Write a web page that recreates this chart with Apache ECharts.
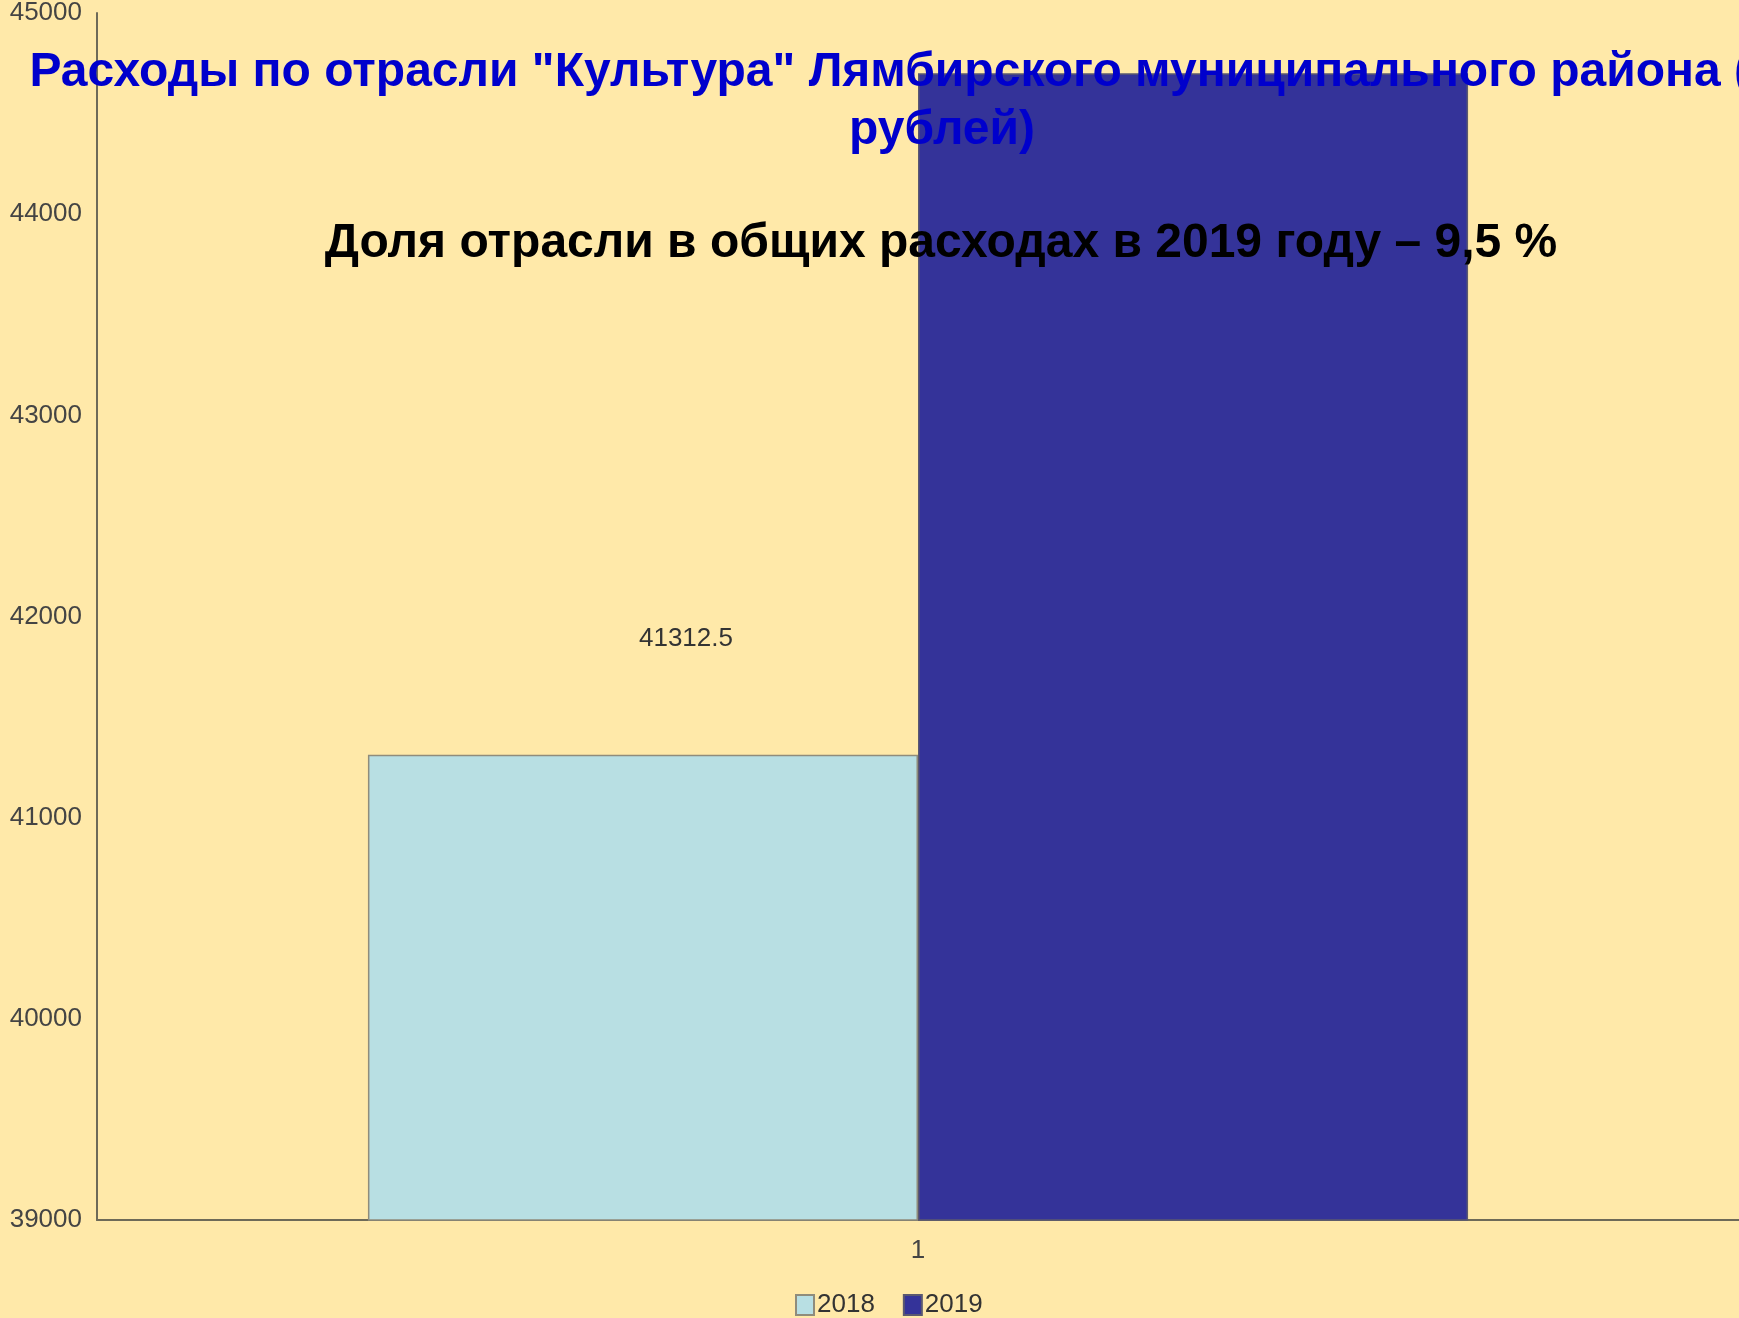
<!DOCTYPE html>
<html>
<head>
<meta charset="utf-8">
<title>Культура</title>
<script src="https://cdn.jsdelivr.net/npm/echarts@6/dist/echarts.min.js"></script>
<style>
  html, body { margin: 0; padding: 0; background: #FFE9A9; }
  #chart { width: 1739px; height: 1318px; }
</style>
</head>
<body>
<div id="chart"></div>
<script>
// данные
var categories = ['1'];
var years = ['2018', '2019'];
var values2018 = [41312.5];
var values2019 = [44700];
var yTicks = { min: 39000, max: 45000, step: 1000 };

var font = '"Liberation Sans", Arial, sans-serif';

var myChart = echarts.init(document.getElementById('chart'));

var option = {
  backgroundColor: '#FFE9A9',
  textStyle: { fontFamily: font },
  title: [{
    text: 'Расходы по отрасли "Культура" Лямбирского муниципального района (тыс.\nрублей)',
    left: 937,
    top: 39,
    textAlign: 'center',
    textStyle: {
      color: '#0000CC',
      fontSize: 48,
      fontWeight: 'bold',
      lineHeight: 58,
      fontFamily: font
    }
  }, {
    text: 'Доля отрасли в общих расходах в 2019 году – 9,5 %',
    left: 936,
    top: 210,
    textAlign: 'center',
    textStyle: {
      color: '#000',
      fontSize: 48,
      fontWeight: 'bold',
      lineHeight: 58,
      fontFamily: font
    }
  }],
  legend: {
    data: years,
    left: 790,
    top: 1287,
    itemWidth: 18,
    itemHeight: 20,
    itemGap: 28,
    icon: 'rect',
    textStyle: { fontSize: 26, color: '#333', fontFamily: font, padding: [0, 0, 0, -2] }
  },
  grid: {
    left: 97,
    right: 0,
    top: 11,
    bottom: 98,
    containLabel: false
  },
  xAxis: {
    type: 'category',
    data: categories,
    axisTick: { show: false },
    axisLine: { lineStyle: { color: '#6e6a58', width: 2 } },
    axisLabel: { margin: 18, fontSize: 26, color: '#444', fontFamily: font }
  },
  yAxis: {
    type: 'value',
    min: yTicks.min,
    max: yTicks.max,
    interval: yTicks.step,
    splitLine: { show: false },
    axisTick: { show: false },
    axisLine: { show: true, lineStyle: { color: '#6e6a58', width: 2 } },
    axisLabel: {
      margin: 15,
      fontSize: 26,
      color: '#444',
      fontFamily: font,
      formatter: function (v) { return String(v); }
    }
  },
  series: [{
    name: '2018',
    type: 'bar',
    data: values2018,
    barGap: 0,
    barCategoryGap: '33%',
    itemStyle: { color: '#B8DFE3', borderColor: '#8f8c7c', borderWidth: 1.5 },
    label: {
      show: true,
      position: 'top',
      distance: 106,
      offset: [43, 3],
      fontSize: 26,
      color: '#333',
      fontFamily: font
    }
  }, {
    name: '2019',
    type: 'bar',
    data: values2019,
    itemStyle: { color: '#343399', borderColor: '#5a5870', borderWidth: 1.5 },
    label: {
      show: true,
      position: 'top',
      distance: 106,
      offset: [43, 3],
      fontSize: 26,
      color: '#333',
      fontFamily: font
    }
  }]
};

myChart.setOption(option);
</script>
</body>
</html>
